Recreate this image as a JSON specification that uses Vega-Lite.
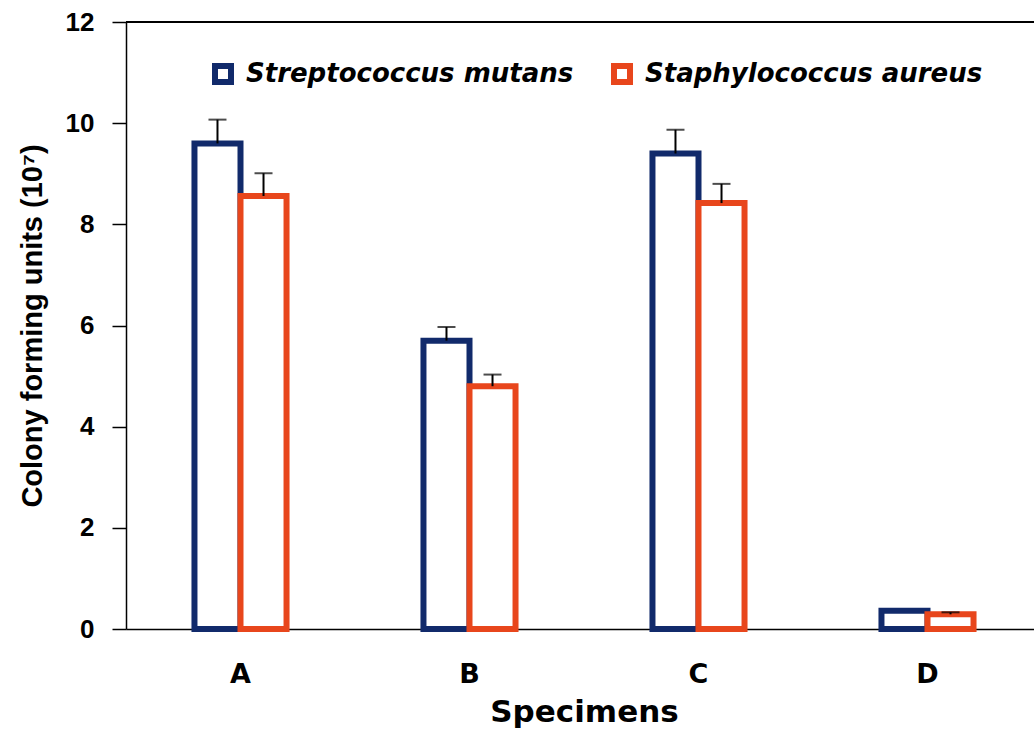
{
  "$schema": "https://vega.github.io/schema/vega-lite/v6.json",
  "width": 908,
  "height": 607,
  "autosize": "none",
  "padding": {"left": 126, "top": 22, "right": 0, "bottom": 106},
  "background": "white",
  "config": {"view": {"stroke": null}},
  "data": {
    "values": [
      {"specimen": "A", "organism": "Streptococcus mutans", "value": 9.6, "upper": 10.07},
      {"specimen": "A", "organism": "Staphylococcus aureus", "value": 8.56, "upper": 9.01},
      {"specimen": "B", "organism": "Streptococcus mutans", "value": 5.7, "upper": 5.97},
      {"specimen": "B", "organism": "Staphylococcus aureus", "value": 4.8, "upper": 5.03},
      {"specimen": "C", "organism": "Streptococcus mutans", "value": 9.4, "upper": 9.87},
      {"specimen": "C", "organism": "Staphylococcus aureus", "value": 8.42, "upper": 8.8},
      {"specimen": "D", "organism": "Streptococcus mutans", "value": 0.36, "upper": null},
      {"specimen": "D", "organism": "Staphylococcus aureus", "value": 0.29, "upper": 0.33}
    ]
  },
  "layer": [
    {
      "mark": {"type": "bar", "fill": "white", "strokeWidth": 6, "strokeJoin": "miter"},
      "encoding": {
        "x": {
          "field": "specimen", "type": "nominal", "sort": ["A", "B", "C", "D"],
          "scale": {"range": [0, 916], "paddingInner": 0.598, "paddingOuter": 0.299},
          "axis": {
            "title": "Specimens",
            "ticks": false,
            "domainColor": "black",
            "domainWidth": 1.5,
            "labelAngle": 0,
            "labelFont": "DejaVu Sans",
            "labelFontWeight": "bold",
            "labelFontSize": 27,
            "labelColor": "black",
            "labelPadding": 32,
            "titleFont": "DejaVu Sans",
            "titleFontWeight": "bold",
            "titleFontSize": 31,
            "titleColor": "black",
            "titlePadding": 10
          }
        },
        "xOffset": {
          "field": "organism", "type": "nominal",
          "sort": ["Streptococcus mutans", "Staphylococcus aureus"],
          "scale": {"paddingInner": 0, "paddingOuter": 0}
        },
        "y": {
          "field": "value", "type": "quantitative",
          "scale": {"domain": [0, 12], "nice": false},
          "axis": {
            "title": "Colony forming units (10⁷)",
            "values": [0, 2, 4, 6, 8, 10, 12],
            "grid": false,
            "domainColor": "black",
            "domainWidth": 1.5,
            "tickColor": "black",
            "tickWidth": 1.5,
            "tickSize": 14,
            "labelFont": "Liberation Sans",
            "labelFontWeight": "bold",
            "labelFontSize": 26,
            "labelColor": "black",
            "labelPadding": 18,
            "titleFont": "Liberation Sans",
            "titleFontWeight": "bold",
            "titleFontSize": 29,
            "titleColor": "black",
            "titleX": -94,
            "titleBaseline": "middle"
          }
        },
        "stroke": {
          "field": "organism", "type": "nominal",
          "sort": ["Streptococcus mutans", "Staphylococcus aureus"],
          "scale": {"domain": ["Streptococcus mutans", "Staphylococcus aureus"], "range": ["#112a6b", "#e8461c"]},
          "legend": {
            "title": null,
            "orient": "none",
            "direction": "horizontal",
            "legendX": 84,
            "legendY": 39,
            "padding": 0,
            "symbolType": "square",
            "symbolSize": 256,
            "symbolStrokeWidth": 6,
            "symbolFillColor": "white",
            "labelFont": "DejaVu Sans",
            "labelFontStyle": "italic",
            "labelFontWeight": "bold",
            "labelFontSize": 26,
            "labelColor": "black",
            "labelOffset": 10,
            "labelLimit": 500,
            "columnPadding": 28
          }
        }
      }
    },
    {
      "mark": {"type": "rule", "color": "black", "strokeWidth": 2},
      "encoding": {
        "x": {"field": "specimen", "type": "nominal", "sort": ["A", "B", "C", "D"]},
        "xOffset": {"field": "organism", "type": "nominal", "sort": ["Streptococcus mutans", "Staphylococcus aureus"]},
        "y": {"field": "value", "type": "quantitative"},
        "y2": {"field": "upper"}
      }
    },
    {
      "mark": {"type": "tick", "color": "black", "thickness": 2, "size": 18, "orient": "horizontal"},
      "encoding": {
        "x": {"field": "specimen", "type": "nominal", "sort": ["A", "B", "C", "D"]},
        "xOffset": {"field": "organism", "type": "nominal", "sort": ["Streptococcus mutans", "Staphylococcus aureus"]},
        "y": {"field": "upper", "type": "quantitative"}
      }
    },
    {
      "mark": {"type": "rule", "color": "black", "strokeWidth": 1.5},
      "encoding": {"y": {"datum": 12, "type": "quantitative"}}
    }
  ]
}
